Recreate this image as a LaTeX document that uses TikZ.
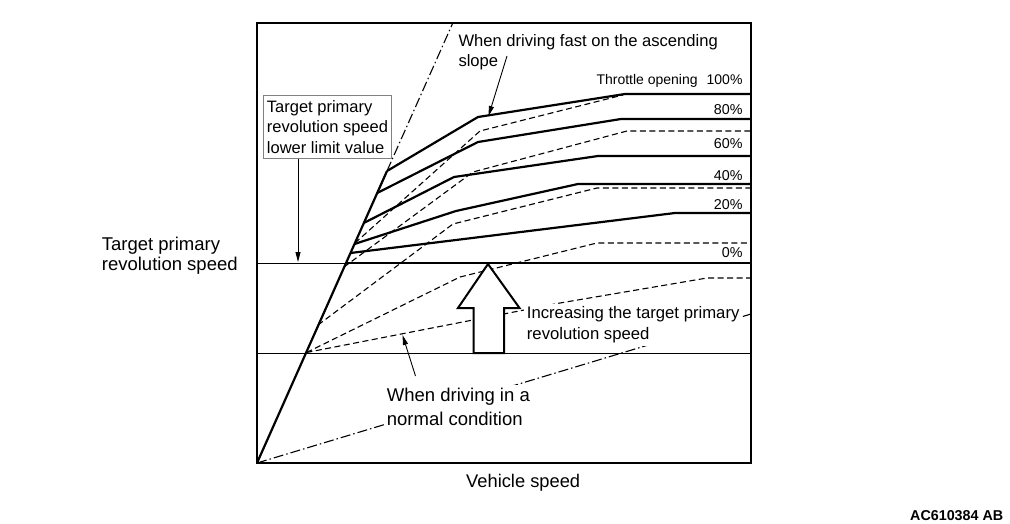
\documentclass[tikz,border=0pt]{standalone}
\usepackage{fontspec}
\setmainfont{Liberation Sans}
\usepackage{tikz}
\usetikzlibrary{arrows.meta}

\begin{document}
\begin{tikzpicture}[x=1pt, y=-1pt,
    fastline/.style={line width=2.2pt, line join=round},
    normline/.style={line width=1.1pt, dash pattern=on 6pt off 3.5pt},
    dotline/.style={line width=1.1pt, dash pattern=on 10pt off 3pt on 1.5pt off 3pt},
    thinline/.style={line width=0.9pt},
    callout/.style={line width=0.9pt, -{Triangle[length=10pt, width=5pt]}},
    lbl/.style={inner sep=0pt, align=left},
    pct/.style={inner sep=0pt, anchor=base east, font=\fontsize{14.3}{16}\selectfont}]
    \useasboundingbox (0,0) rectangle (1010,524);

    % Frame
    \coordinate (o) at (257,463);
    \draw [line width=1.8pt] (257,23) rectangle (751,463);
    \draw [thinline] (257,263) -- (751,263);
    \draw [thinline] (257,353) -- (751,353);

    % Normal condition
    \draw [normline] (355,243) -- (480,131) -- (623,95);
    \draw [normline] (344,267) -- (473,172) -- (627,131) -- (751,131);
    \draw [normline] (318,325) -- (453,224) -- (597,188) -- (751,188);
    \draw [normline] (306.5,352.5) -- (460,277) -- (597,243) -- (751,243);
    \draw [normline] (306.5,352.5) -- (560,303) -- (707,278) -- (751,278);
    \draw [dotline] (387,171) -- (452.8,23);
    \draw [dotline] (o) -- (751,314);

    % Ascending slope
    \draw [fastline] (o) -- (387,171);
    \draw [fastline] (387,171) -- (478,117) -- (625,94) -- (751,94);
    \draw [fastline] (377.2,193) -- (478,142) -- (621,119) -- (751,119);
    \draw [fastline] (363.8,223) -- (454,177) -- (598,156) -- (751,156);
    \draw [fastline] (354.5,244) -- (456,211) -- (578,184) -- (751,184);
    \draw [fastline] (350.5,253) -- (675,213) -- (751,213);
    \draw [fastline] (346,263) -- (751,263);

    % Increase arrow
    \draw [line width=2pt, fill=white, line join=miter] (488,264) -- (519.5,308) -- (504,308) -- (504,353) -- (473.5,353) -- (473.5,308) -- (458,308) -- cycle;

    % Labels
    \node [lbl, anchor=north west, font=\fontsize{16.6}{19.5}\selectfont] (slope) at (458.3,34.5) {When driving fast on the ascending\\slope};
    \node [lbl, draw=gray, fill=white, line width=0.8pt, minimum width=128.4pt, minimum height=63.3pt, font=\fontsize{16.5}{20.5}\selectfont] (limit) at (327.5,126.7) {Target primary\\revolution speed\\lower limit value};
    \node [lbl, anchor=north west, font=\fontsize{18.5}{19.5}\selectfont] (target) at (101.7,237.3) {Target primary\\revolution speed};
    \node [lbl, anchor=north west, fill=white, inner sep=3pt, font=\fontsize{16.7}{20.6}\selectfont] (increase) at (523.7,303.5) {Increasing the target primary\\revolution speed};
    \node [lbl, anchor=north west, fill=white, inner sep=3pt, font=\fontsize{18.5}{23.3}\selectfont] (normal) at (383.7,385.1) {When driving in a\\normal condition};
    \node [anchor=base west, inner sep=0pt, font=\fontsize{18.3}{22}\selectfont] (speed) at (466,487.3) {Vehicle speed};
    \node [anchor=base west, inner sep=0pt, font=\fontsize{14.3}{16}\selectfont\bfseries] (code) at (910,520.8) {AC610384 AB};

    % Throttle opening
    \node [pct, font=\fontsize{14}{16}\selectfont] (p100) at (742.7,85) {Throttle opening\hspace{9pt}100\%};
    \node [pct] (p80) at (742.7,114.4) {80\%};
    \node [pct] (p60) at (742.7,148.4) {60\%};
    \node [pct] (p40) at (742.7,180.8) {40\%};
    \node [pct] (p20) at (742.7,209.1) {20\%};
    \node [pct] (p0) at (742.7,257.8) {0\%};

    % Arrows
    \coordinate (slopetail) at (507,56);
    \coordinate (slopetip) at (488.5,116);
    \coordinate (limittip) at (298,262);
    \coordinate (normaltail) at (415.5,376);
    \coordinate (normaltip) at (402.5,335);
    \draw [callout] (slopetail) -- (slopetip);
    \draw [callout] (limit.south -| limittip) -- (limittip);
    \draw [callout] (normaltail) -- (normaltip);
\end{tikzpicture}
\end{document}
